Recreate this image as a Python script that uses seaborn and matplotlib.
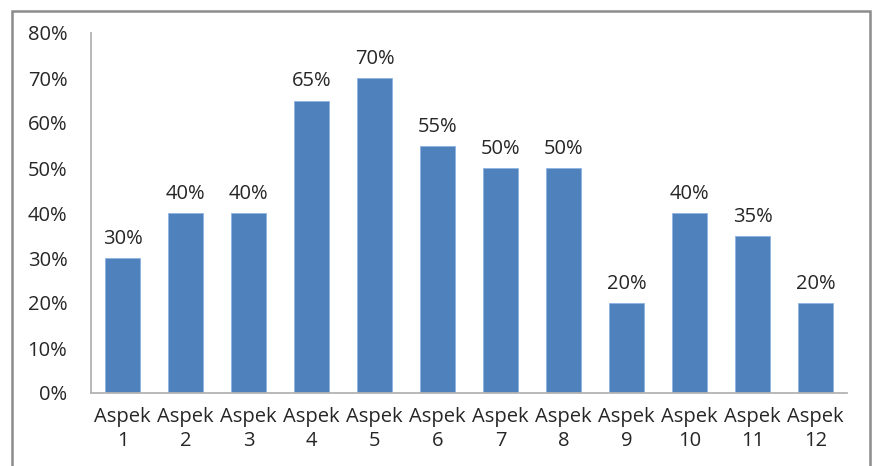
import matplotlib
matplotlib.use("Agg")
import matplotlib.pyplot as plt
import matplotlib.patches as mpatches
import pandas as pd
import seaborn as sns

categories = ["Aspek\n1", "Aspek\n2", "Aspek\n3", "Aspek\n4", "Aspek\n5", "Aspek\n6",
              "Aspek\n7", "Aspek\n8", "Aspek\n9", "Aspek\n10", "Aspek\n11", "Aspek\n12"]
values = [30, 40, 40, 65, 70, 55, 50, 50, 20, 40, 35, 20]
y_ticks = [0, 10, 20, 30, 40, 50, 60, 70, 80]
y_tick_labels = [f"{t}%" for t in y_ticks]

df = pd.DataFrame({"aspek": categories, "persen": values})

sns.set_theme(style="white")
plt.rcParams["font.family"] = ["Open Sans", "DejaVu Sans"]

fig = plt.figure(figsize=(8.72, 4.66), dpi=100)
ax = fig.add_axes([91 / 872, 1 - 393 / 466, (847 - 91) / 872, (393 - 33) / 466])

sns.barplot(data=df, x="aspek", y="persen", color="#4F81BD", saturation=1,
            width=0.56, ax=ax)

for patch in ax.patches:
    patch.set_edgecolor("#8DB3E2")
    patch.set_linewidth(0.6)

for i, v in enumerate(values):
    ax.text(i, v + 2.0, f"{v}%", ha="center", va="bottom", fontsize=14.5, color="#262626")

ax.set_ylim(0, 80)
ax.set_xlim(-0.5, len(categories) - 0.5)
ax.set_yticks(y_ticks)
ax.set_yticklabels(y_tick_labels)
ax.set_xlabel("")
ax.set_ylabel("")
ax.tick_params(axis="both", length=0, labelsize=14.5, colors="#262626")
ax.tick_params(axis="y", pad=17)
ax.tick_params(axis="x", pad=10)
for lbl in ax.get_xticklabels():
    lbl.set_linespacing(1.3)

for side in ["top", "right"]:
    ax.spines[side].set_visible(False)
for side in ["left", "bottom"]:
    ax.spines[side].set_color("#B3B3B3")
    ax.spines[side].set_linewidth(1.3)

# outer chart frame
frame = mpatches.Rectangle((12 / 872, -0.05), (870 - 12) / 872, 1.05 - 11 / 466,
                           transform=fig.transFigure, fill=False,
                           edgecolor="#8C8C8C", linewidth=1.8, clip_on=False)
fig.patches.append(frame)

fig.savefig("out.png", dpi=100)
